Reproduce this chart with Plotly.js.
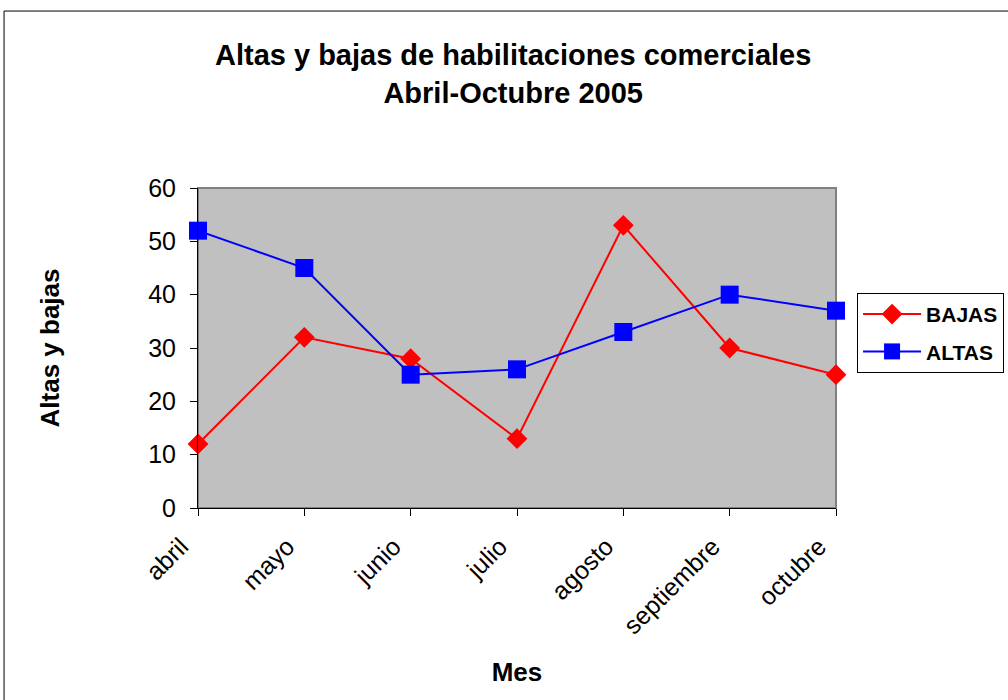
<!DOCTYPE html>
<html>
<head>
<meta charset="utf-8">
<script src="https://cdn.plot.ly/plotly-3.0.1.min.js"></script>
<style>html,body{margin:0;padding:0;background:#fff;}#chart{width:1008px;height:700px;}</style>
</head>
<body>
<div id="chart"></div>
<script>
const meses = ["abril", "mayo", "junio", "julio", "agosto", "septiembre", "octubre"];
const bajas = [12, 32, 28, 13, 53, 30, 25];
const altas = [52, 45, 25, 26, 33, 40, 37];
const yTicks = [0, 10, 20, 30, 40, 50, 60];

const font = "Arial, 'Liberation Sans', sans-serif";

const traces = [
  {
    x: meses, y: bajas, name: "BAJAS", type: "scatter", mode: "lines+markers",
    legendgroup: "b",
    line: {color: "#FF0000", width: 2},
    marker: {symbol: "diamond", size: 16, color: "#FF0000"},
    cliponaxis: false
  },
  {
    x: meses, y: altas, name: "ALTAS", type: "scatter", mode: "lines+markers",
    legendgroup: "a",
    line: {color: "#0000FF", width: 2},
    marker: {symbol: "square", size: 18, color: "#0000FF"},
    cliponaxis: false
  }
];

const layout = {
  width: 1008, height: 700,
  margin: {l: 198, r: 172, t: 188, b: 192, pad: 0, autoexpand: false},
  paper_bgcolor: "#FFFFFF",
  plot_bgcolor: "#C0C0C0",
  font: {family: font, color: "#000"},
  title: {
    text: "<b>Altas y bajas de habilitaciones comerciales<br>Abril-Octubre 2005</b>",
    font: {family: font, size: 29, color: "#000"},
    x: 0.494, xanchor: "center", y: 0.907, yanchor: "middle", xref: "paper", yref: "container"
  },
  xaxis: {
    type: "category", range: [0, 6], autorange: false, automargin: false,
    showgrid: false, zeroline: false,
    showline: true, linecolor: "#000", linewidth: 1,
    ticks: "outside", ticklen: 7, tickcolor: "#000", tickwidth: 1,
    tickangle: -45, ticklabelshift: -17, ticklabelstandoff: 6,
    tickfont: {family: font, size: 25, color: "#000"},
    title: {text: "<b>Mes</b>", font: {family: font, size: 26, color: "#000"}, standoff: 24}
  },
  yaxis: {
    range: [0, 60], autorange: false, tickvals: yTicks, automargin: false,
    showgrid: false, zeroline: false,
    showline: true, linecolor: "#000", linewidth: 1,
    ticks: "outside", ticklen: 7, tickcolor: "#000", tickwidth: 1,
    ticklabelstandoff: 9,
    tickfont: {family: font, size: 25, color: "#000"},
    title: {text: "<b>Altas y bajas</b>", font: {family: font, size: 26, color: "#000"}, standoff: 81}
  },
  legend: {
    x: 1.033, xanchor: "left", y: 0.547, yanchor: "middle",
    bgcolor: "#FFFFFF", bordercolor: "#000", borderwidth: 1,
    font: {family: font, size: 21, color: "#000", weight: "bold"},
    traceorder: "grouped", tracegroupgap: 7,
    itemwidth: 58
  },
  showlegend: true,
  shapes: [
    {type: "rect", xref: "paper", yref: "paper", x0: 0, x1: 1, y0: 0, y1: 1,
     line: {color: "#808080", width: 2}, layer: "below"},
    {type: "rect", xref: "paper", yref: "paper", x0: -0.304, x1: 1.28, y0: -0.62, y1: 1.553,
     line: {color: "#000", width: 1}, fillcolor: "rgba(0,0,0,0)", layer: "below"}
  ]
};

Plotly.newPlot("chart", traces, layout, {displayModeBar: false, staticPlot: true});
</script>
</body>
</html>
